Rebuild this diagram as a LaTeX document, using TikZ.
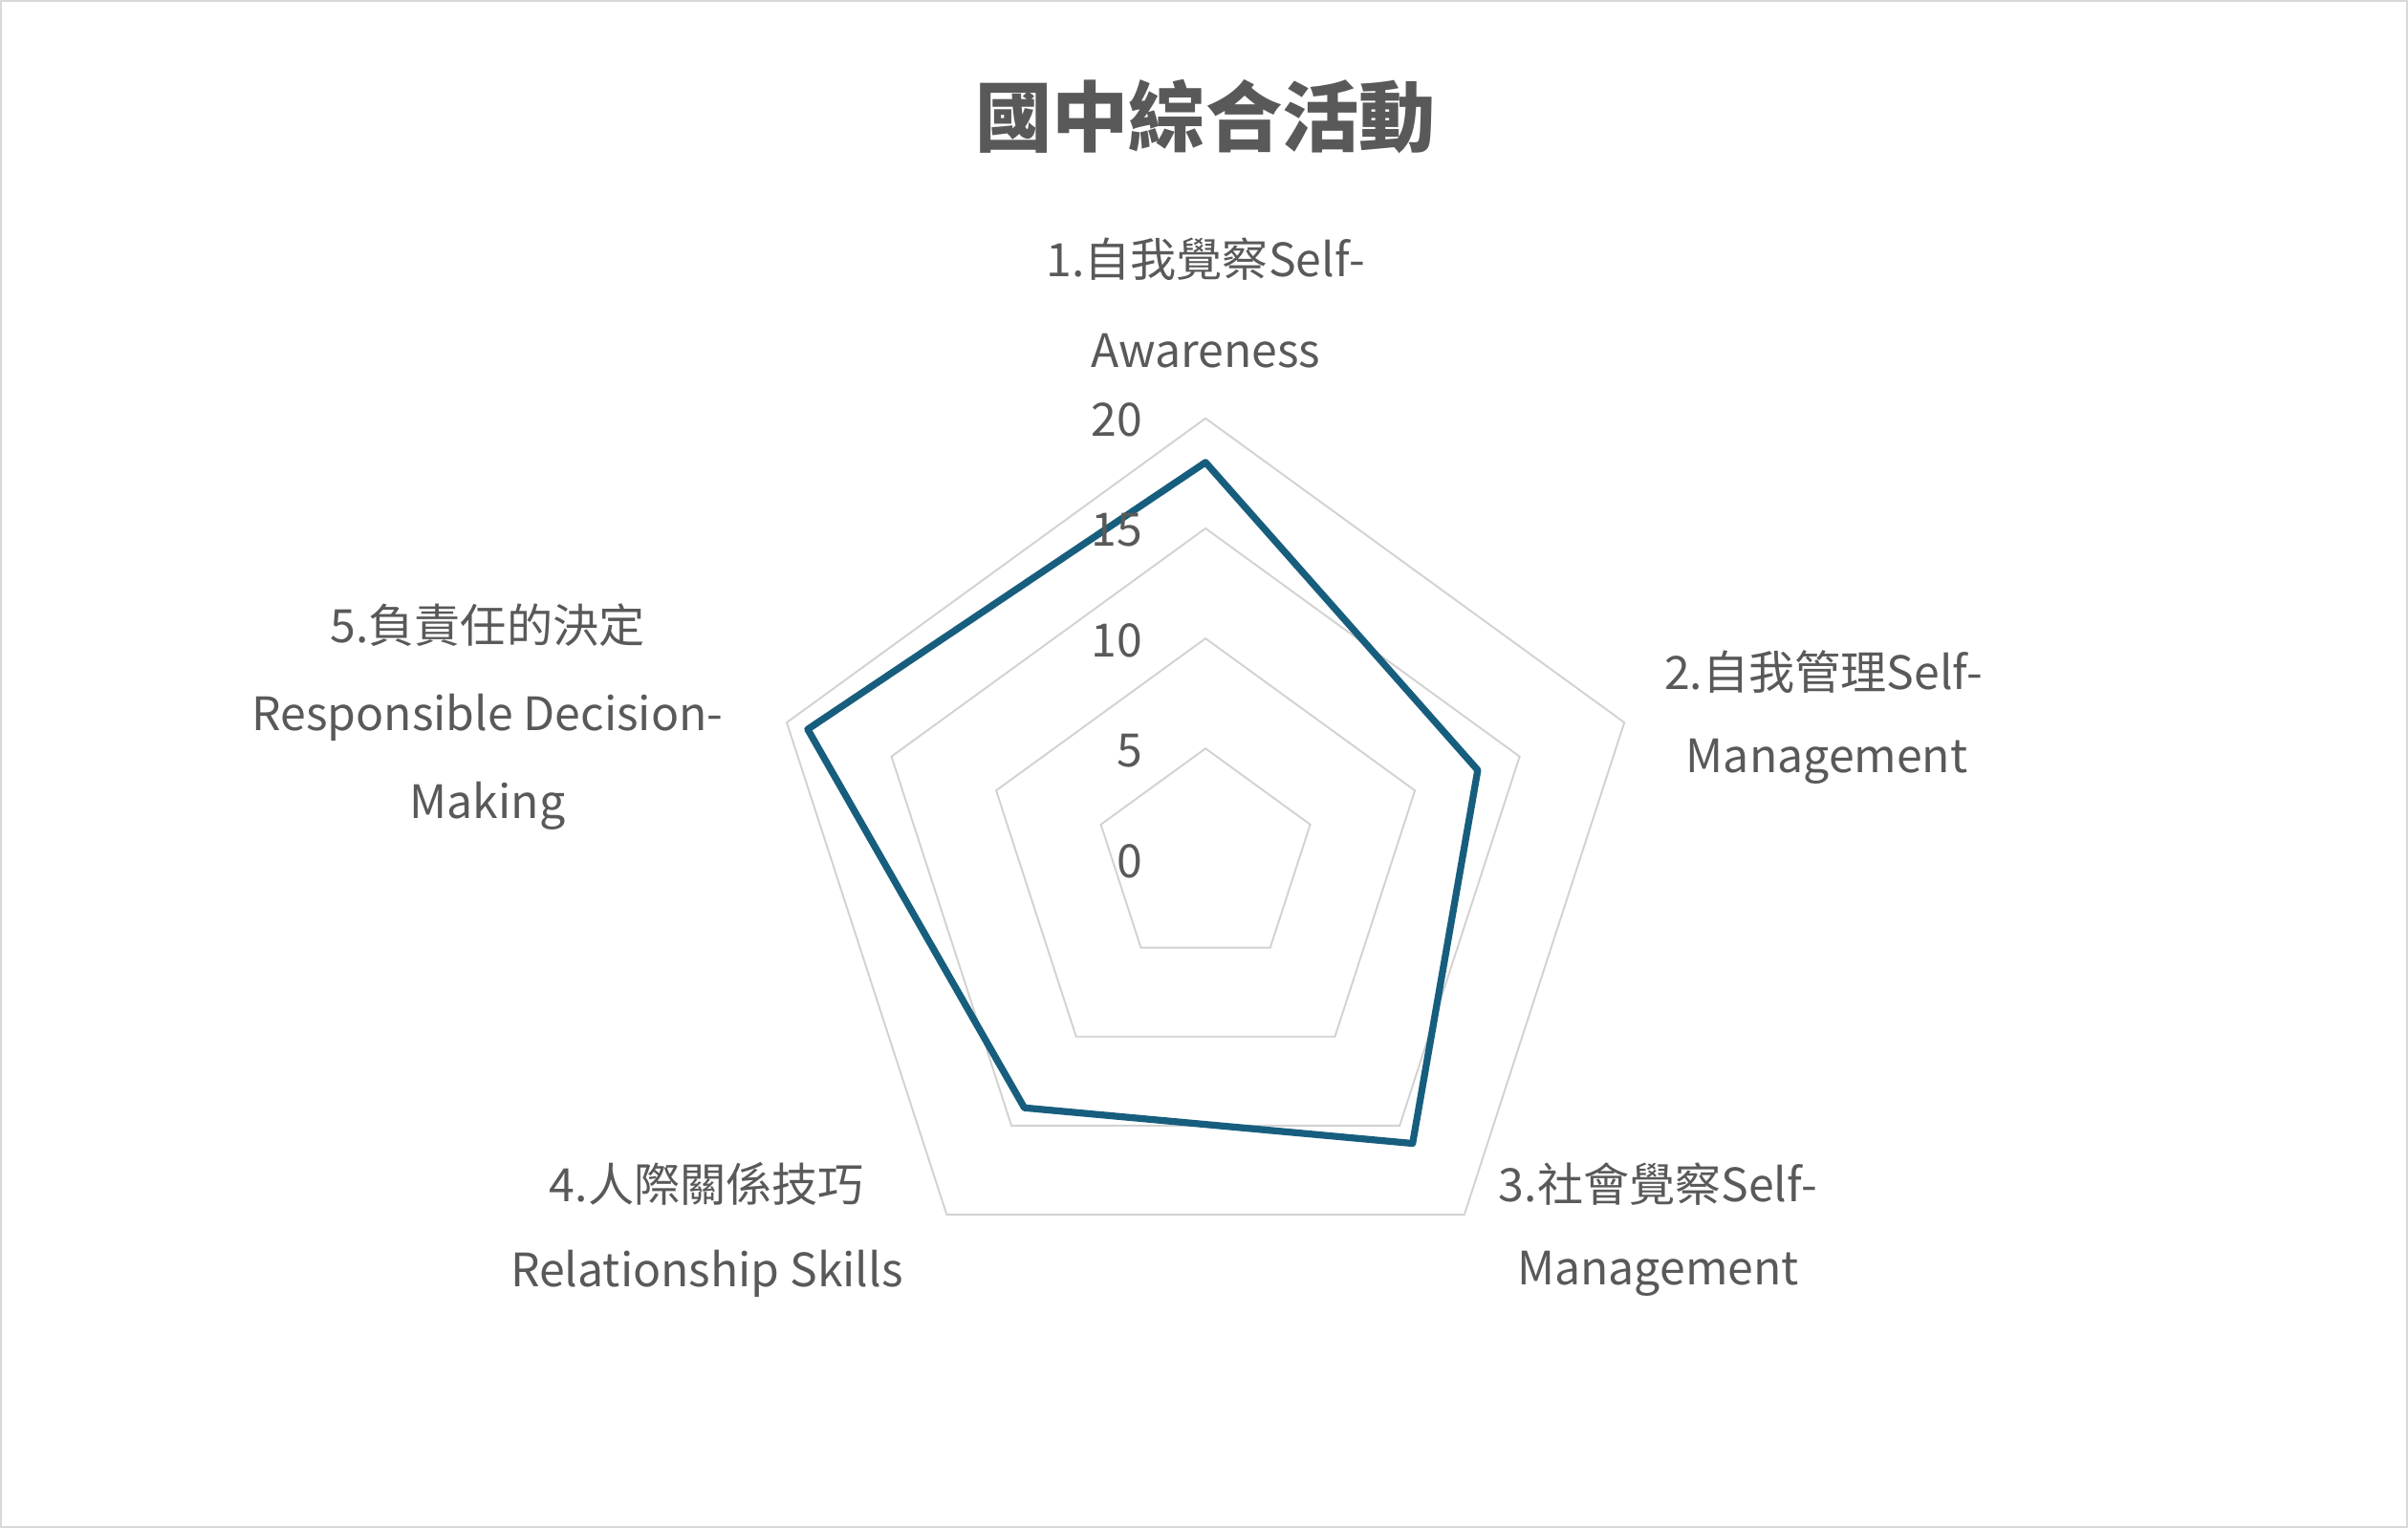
\documentclass[tikz,border=0pt]{standalone}
\usepackage{fontspec}
\setmainfont{Noto Sans CJK TC}
\usetikzlibrary{calc}
\begin{document}
\begin{tikzpicture}[x=1pt,y=1pt,
  lab/.style={text=txt,font=\fontsize{30}{30}\selectfont,inner sep=0pt,anchor=center},
  num/.style={text=txt,font=\fontsize{30}{30}\selectfont,inner sep=0pt,anchor=east},
  grid/.style={draw=gray!35,line width=1.2pt}]
\definecolor{txt}{HTML}{595959}
\definecolor{ser}{HTML}{175E7E}
\draw[draw=gray!30,line width=1.5pt,fill=white] (0,0) rectangle (1568,-995);
\useasboundingbox (0,0) rectangle (1568,-995);
\coordinate (c) at (785,-559);
\foreach \r in {71.75,143.5,215.25,287}{
  \draw[grid] ($(c)+(90:\r)$) -- ($(c)+(18:\r)$) -- ($(c)+(-54:\r)$) -- ($(c)+(-126:\r)$) -- ($(c)+(162:\r)$) -- cycle;
}
\def\u{14.35}
\coordinate (p1) at ($(c)+(90:18*\u)$);
\coordinate (p2) at ($(c)+(18:13*\u)$);
\coordinate (p3) at ($(c)+(-54:16*\u)$);
\coordinate (p4) at ($(c)+(-126:14*\u)$);
\coordinate (p5) at ($(c)+(162:19*\u)$);
\draw[ser,line width=4.5pt,line join=round] (p1)--(p2)--(p3)--(p4)--(p5)--cycle;
\node[text=txt,font=\fontsize{50}{50}\selectfont\bfseries,inner sep=0pt] (t) at (785,-75) {國中綜合活動};
\node[lab] (a1) at (785,-168) {1.自我覺察Self-};
\node[lab] (b1) at (785,-228) {Awareness};
\node[lab] (a2) at (1188,-437) {2.自我管理Self-};
\node[lab] (b2) at (1190,-496) {Management};
\node[lab] (a3) at (1080,-771) {3.社會覺察Self-};
\node[lab] (b3) at (1080,-830) {Management};
\node[lab] (a4) at (460,-771) {4.人際關係技巧};
\node[lab] (b4) at (460,-830) {Relationship Skills};
\node[lab] (a5) at (317,-407) {5.負責任的決定};
\node[lab] (b5) at (317,-467) {Responsible Decision-};
\node[lab] (c5) at (317,-525) {Making};
\node[num] (n20) at (744,-273) {20};
\node[num] (n15) at (744,-345) {15};
\node[num] (n10) at (744,-417) {10};
\node[num] (n5) at (744,-489) {5};
\node[num] (n0) at (744,-561) {0};
\end{tikzpicture}
\end{document}
